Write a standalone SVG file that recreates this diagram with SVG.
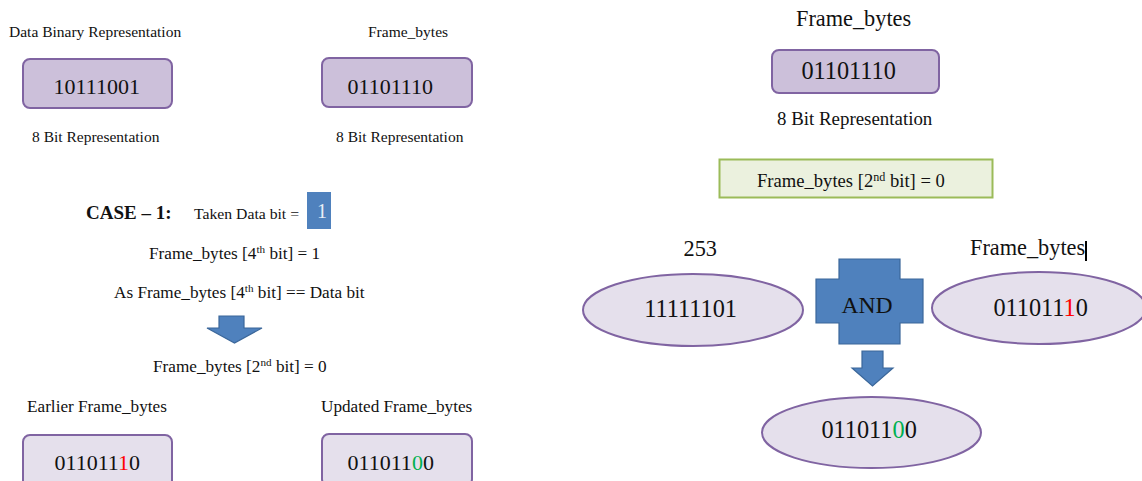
<svg xmlns="http://www.w3.org/2000/svg" width="1142" height="481" viewBox="0 0 1142 481">
  <style>
    text { font-family: "Liberation Serif", "Times New Roman", serif; fill: #111; }
    .lbl { font-size: 15.5px; }
    .mid { font-size: 17.2px; }
    .big { font-size: 22px; }
    .rlbl { font-size: 22.3px; }
    .bits { font-size: 22px; }
    .rbits { font-size: 24.3px; }
    .box { fill: #ccc0da; stroke: #8064a2; stroke-width: 2; }
    .boxl { fill: #e5e0ec; stroke: #8064a2; stroke-width: 2; }
    .ell { fill: #e5e0ec; stroke: #8064a2; stroke-width: 2; }
    .blue { fill: #4f81bd; stroke: #3b679a; stroke-width: 1.2; }
    .sup { font-size: 65%; }
    .red { fill: #ff0000; }
    .grn { fill: #00b050; }
  </style>

  <!-- left panel: data byte and frame byte -->
  <g id="data-binary">
    <text class="lbl" x="9" y="37">Data Binary Representation</text>
    <rect class="box" x="23" y="59" width="149" height="49" rx="7"/>
    <text class="bits" x="53.6" y="94">10111001</text>
    <text class="lbl" x="32" y="142">8 Bit Representation</text>
  </g>

  <g id="frame-bytes-left">
    <text class="lbl" x="368" y="37">Frame_bytes</text>
    <rect class="box" x="322" y="58" width="150" height="49" rx="7"/>
    <text class="bits" x="347.5" y="94">01101110</text>
    <text class="lbl" x="336" y="142">8 Bit Representation</text>
  </g>

  <g id="case-1">
    <text x="86" y="219" style="font-size:19px;font-weight:bold">CASE – 1:</text>
    <text x="194" y="219" style="font-size:14px" textLength="105" lengthAdjust="spacingAndGlyphs">Taken Data bit =</text>
    <rect x="307" y="192" width="24" height="37" fill="#4f81bd"/>
    <text x="322" y="218" text-anchor="middle" style="font-size:20px;fill:#e8eef7">1</text>
  </g>

  <g id="case-1-steps">
    <text class="mid" x="149" y="259">Frame_bytes [4<tspan class="sup" dy="-6">th</tspan><tspan dy="6"> bit] = 1</tspan></text>
    <text class="mid" x="114" y="298">As Frame_bytes [4<tspan class="sup" dy="-6">th</tspan><tspan dy="6"> bit] == Data bit</tspan></text>
    <text class="mid" x="153" y="372">Frame_bytes [2<tspan class="sup" dy="-6">nd</tspan><tspan dy="6"> bit] = 0</tspan></text>
  </g>

  <g id="earlier-frame-bytes">
    <text class="mid" x="27" y="412">Earlier Frame_bytes</text>
    <rect class="boxl" x="23" y="435" width="149" height="52" rx="7"/>
    <text class="bits" x="54.5" y="470">011011<tspan class="red">1</tspan>0</text>
  </g>

  <g id="updated-frame-bytes">
    <text class="mid" x="321" y="412">Updated Frame_bytes</text>
    <rect class="boxl" x="322" y="434" width="150" height="52" rx="7"/>
    <text class="bits" x="347.5" y="470">011011<tspan class="grn">0</tspan>0</text>
  </g>

  <!-- right panel: masking with 253 -->
  <g id="frame-bytes-right">
    <text class="rlbl" x="796" y="26">Frame_bytes</text>
    <rect class="box" x="772" y="50" width="167" height="43" rx="7"/>
    <text class="rbits" x="801.4" y="79">01101110</text>
    <text x="777" y="125" style="font-size:18.9px">8 Bit Representation</text>
  </g>

  <g id="bit-rule">
    <rect x="719.5" y="159.5" width="273" height="38" fill="#ebf1de" stroke="#9bbb59" stroke-width="2"/>
    <text x="757" y="187" style="font-size:18.6px">Frame_bytes [2<tspan class="sup" dy="-6">nd</tspan><tspan dy="6"> bit] = 0</tspan></text>
  </g>

  <g id="mask-253">
    <text class="rlbl" x="683.5" y="256">253</text>
    <ellipse class="ell" cx="693" cy="310" rx="110" ry="36"/>
    <text class="rbits" x="644.3" y="317">11111101</text>
  </g>

  <g id="and-op">
    <path class="blue" d="M839,259 H900 V279 H923 V323 H900 V344 H839 V323 H816 V279 H839 Z"/>
    <text x="867" y="313" text-anchor="middle" style="font-size:23.6px">AND</text>
  </g>

  <g id="frame-bytes-operand">
    <text class="rlbl" x="970" y="255">Frame_bytes</text>
    <line x1="1086" y1="241" x2="1086" y2="261" stroke="#000" stroke-width="2"/>
    <ellipse class="ell" cx="1039" cy="308" rx="107" ry="36"/>
    <text class="rbits" x="993.4" y="316">011011<tspan class="red">1</tspan>0</text>
  </g>

  <g id="result">
    <ellipse class="ell" cx="871.5" cy="432.5" rx="109.5" ry="35.5"/>
    <text class="rbits" x="821.4" y="438">011011<tspan class="grn">0</tspan>0</text>
  </g>

  <!-- block arrows -->
  <g id="connectors">
    <path class="blue" d="M219,316 H244 V328 H262 L234.5,343 L207,328 H219 Z"/>
    <path class="blue" d="M862,351 H883 V368 H893 L872.5,386 L852,368 H862 Z"/>
  </g>
</svg>
